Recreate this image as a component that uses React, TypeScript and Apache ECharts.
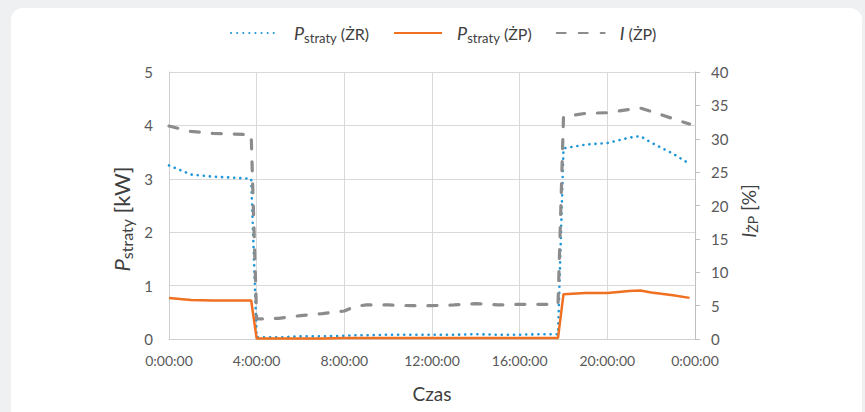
import React, { useEffect, useRef } from "react";
import * as echarts from "echarts";

const hours = [0, 1, 2, 3, 3.75, 4, 5, 6, 7, 8, 8.5, 9, 10, 11, 12, 13, 14, 15, 16, 17, 17.75, 18, 19, 20, 21, 21.5, 22, 23, 23.75];
const pStratyZR = [3.25, 3.08, 3.04, 3.02, 3.0, 0.03, 0.03, 0.05, 0.05, 0.06, 0.07, 0.07, 0.08, 0.08, 0.08, 0.08, 0.09, 0.08, 0.08, 0.09, 0.09, 3.57, 3.64, 3.67, 3.77, 3.8, 3.68, 3.47, 3.28];
const pStratyZP = [0.77, 0.73, 0.72, 0.72, 0.72, 0.01, 0.01, 0.01, 0.01, 0.02, 0.02, 0.02, 0.02, 0.02, 0.02, 0.02, 0.02, 0.02, 0.02, 0.02, 0.02, 0.84, 0.86, 0.86, 0.9, 0.91, 0.87, 0.82, 0.77];
const iZP = [31.9, 31.1, 30.8, 30.7, 30.6, 3.0, 3.1, 3.5, 3.8, 4.2, 4.9, 5.1, 5.1, 5.0, 5.0, 5.1, 5.3, 5.1, 5.2, 5.2, 5.2, 33.3, 33.8, 33.9, 34.4, 34.6, 34.1, 33.0, 32.2];
const seriesNames = ["pZR", "pZP", "iZP"];
const legendLabels: Record<string, string> = {
  pZR: "{p|P}{s|straty}{n| (ŻR)}",
  pZP: "{p|P}{s|straty}{n| (ŻP)}",
  iZP: "{p|I}{n| (ŻP)}",
};

const FONT = "Lato, 'Open Sans', sans-serif";
const TXT = "#595959";

const richBase = (big: number, small: number, n: number, lh = 22, slh = 12) => ({
  p: { fontSize: big, fontStyle: "italic", fontFamily: FONT, color: "#404040", fill: "#404040", lineHeight: lh, verticalAlign: "middle" },
  s: { fontSize: small, fontFamily: FONT, color: "#404040", fill: "#404040", lineHeight: slh, verticalAlign: "bottom" },
  n: { fontSize: n, fontFamily: FONT, color: "#404040", fill: "#404040", lineHeight: lh, verticalAlign: "middle" },
});

export default function App() {
  const ref = useRef<HTMLDivElement>(null);
  useEffect(() => {
    if (!ref.current) return;
    const chart = echarts.init(ref.current, undefined, { renderer: "svg" });
    const pairs = (vals: number[]) => hours.map((h, i) => [h, vals[i]]);
    chart.setOption({
      animation: false,
      textStyle: { fontFamily: FONT },
      grid: { left: 169, right: 170, top: 72, bottom: 73 },
      legend: {
        left: 230,
        top: 24,
        padding: 0,
        itemWidth: 48,
        itemHeight: 14,
        itemGap: 24,
        itemStyle: { opacity: 0 },
        formatter: (name: string) => legendLabels[name],
        textStyle: { padding: [0, 0, 0, 10], rich: richBase(18, 13, 16) },
        data: seriesNames,
      },
      xAxis: {
        type: "value",
        min: 0,
        max: 24,
        interval: 4,
        axisLine: { show: true, lineStyle: { color: "#cfcfcf", width: 1 } },
        axisTick: { show: false },
        splitLine: { show: true, lineStyle: { color: "#d9d9d9", width: 1 } },
        axisLabel: {
          color: TXT,
          fontSize: 14,
          fontFamily: FONT,
          margin: 14,
          formatter: (v: number) => `${v % 24}:00:00`,
        },
      },
      yAxis: [
        {
          type: "value",
          min: 0,
          max: 5,
          interval: 1,
          position: "left",
          axisLine: { show: true, lineStyle: { color: "#cfcfcf", width: 1 } },
          axisTick: { show: false },
          splitLine: { show: true, lineStyle: { color: "#d9d9d9", width: 1 } },
          axisLabel: { color: TXT, fontSize: 15, fontFamily: FONT, margin: 16 },
        },
        {
          type: "value",
          min: 0,
          max: 40,
          interval: 5,
          position: "right",
          axisLine: { show: true, lineStyle: { color: "#bfbfbf", width: 1 } },
          axisTick: { show: true, inside: false, length: 5, lineStyle: { color: "#bfbfbf" } },
          splitLine: { show: false },
          axisLabel: { color: TXT, fontSize: 15, fontFamily: FONT, margin: 16 },
        },
      ],
      series: [
        {
          name: "pZR",
          type: "line",
          yAxisIndex: 0,
          data: pairs(pStratyZR),
          symbol: "none",
          color: "#1f97d8",
          lineStyle: { color: "#1f97d8", width: 2.6, type: [0.1, 6], cap: "round" },
        },
        {
          name: "pZP",
          type: "line",
          yAxisIndex: 0,
          data: pairs(pStratyZP),
          symbol: "none",
          color: "#f07021",
          lineStyle: { color: "#f07021", width: 2.5, type: "solid" },
        },
        {
          name: "iZP",
          type: "line",
          yAxisIndex: 1,
          data: pairs(iZP),
          symbol: "none",
          color: "#8c8c8c",
          lineStyle: { color: "#8c8c8c", width: 3.2, type: [9, 13], cap: "round" },
        },
      ],
      graphic: [
        {
          type: "text",
          x: 121,
          y: 219,
          rotation: Math.PI / 2,
          style: {
            text: "{p|P}{s|straty}{n| [kW]}",
            rich: richBase(22, 16, 22, 26, 14),
            align: "center",
            verticalAlign: "middle",
          },
        },
        {
          type: "text",
          x: 748,
          y: 211,
          rotation: Math.PI / 2,
          style: {
            text: "{p|I}{s|ŻP}{n| [%]}",
            rich: richBase(19, 14, 19),
            align: "center",
            verticalAlign: "middle",
          },
        },
        {
          type: "text",
          x: 432,
          y: 393,
          style: {
            text: "Czas",
            fontSize: 19,
            fontFamily: FONT,
            fill: "#404040",
            align: "center",
            verticalAlign: "middle",
          },
        },
      ],
    });
    return () => chart.dispose();
  }, []);
  return (
    <div style={{ position: "fixed", left: 0, top: 0, width: 865, height: 412, background: "#eff0f2", overflow: "hidden" }}>
      <div style={{ position: "absolute", left: 11, top: 8, width: 851, height: 430, background: "#ffffff", borderRadius: 12 }} />
      <div ref={ref} style={{ position: "absolute", left: 0, top: 0, width: 865, height: 412 }} />
    </div>
  );
}
